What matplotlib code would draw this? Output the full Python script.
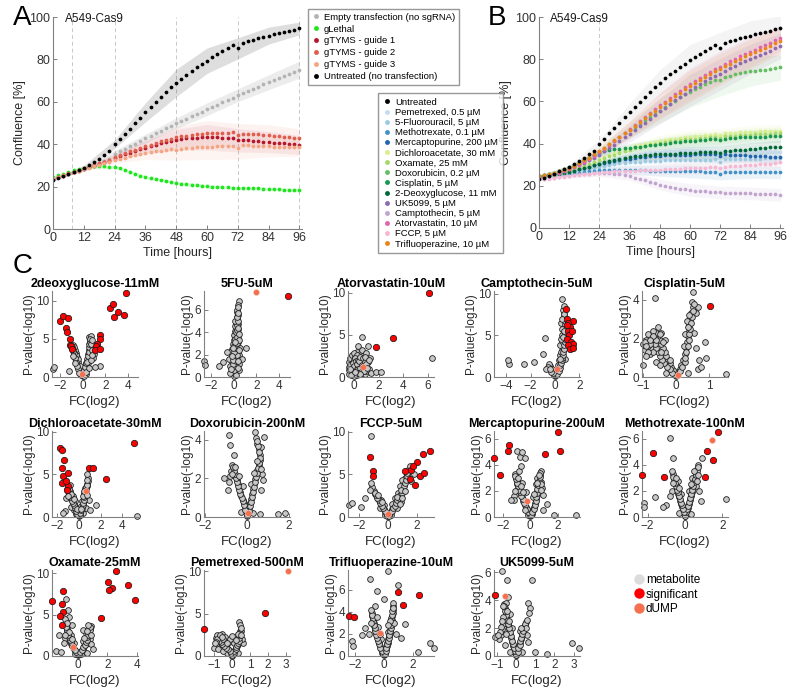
import matplotlib

matplotlib.use("Agg")
import matplotlib.pyplot as plt  # noqa: E402
from matplotlib.lines import Line2D  # noqa: E402
import numpy as np  # noqa: E402

plt.rcParams['font.family'] = ['Liberation Sans', 'DejaVu Sans']

W, H = 800, 696

# ---------------------------------------------------------------- time courses (every 2 h)
hours = list(range(0, 97, 2))
band_hours = [0, 12, 24, 36, 48, 60, 72, 84, 96]

a_untreated = [23.0, 23.9, 24.8, 25.8, 26.8, 27.9, 29.0, 30.3, 31.7, 33.2, 34.9, 36.7, 40.0,
               42.4, 44.8, 47.3, 49.9, 52.4, 55.0, 57.5, 59.9, 62.3, 64.6, 66.8, 68.9,
               70.9, 72.8, 74.6, 76.3, 77.9, 79.4, 81.0, 82.5, 84.0, 85.4, 86.8, 85.2,
               87.8, 88.6, 89.3, 90.0, 90.6, 91.2, 91.8, 92.4, 92.9, 93.5, 94.1, 94.6]
a_empty = [23.5, 24.3, 25.1, 25.9, 26.7, 27.5, 28.3, 29.1, 30.0, 31.0, 32.0, 33.2, 35.5,
           36.7, 37.9, 39.1, 40.3, 41.5, 42.7, 43.9, 45.1, 46.3, 47.5, 48.7, 49.9,
           51.0, 52.1, 53.2, 54.3, 55.4, 56.5, 57.6, 58.7, 59.8, 60.9, 62.0, 63.1,
           64.2, 65.2, 66.2, 67.2, 68.2, 69.2, 70.2, 71.2, 72.2, 73.2, 74.2, 75.2]
a_lethal = [24.5, 25.3, 26.1, 26.9, 27.6, 28.2, 28.8, 29.3, 29.6, 29.8, 29.7, 29.4, 29.3,
            28.8, 28.0, 27.0, 26.0, 25.2, 24.5, 23.9, 23.4, 23.0, 22.6, 22.2, 21.8,
            21.4, 21.1, 20.8, 20.6, 20.4, 20.2, 20.0, 19.8, 19.6, 19.6, 19.5, 19.3,
            19.5, 19.4, 19.3, 19.2, 19.0, 18.9, 18.8, 18.7, 18.6, 18.5, 18.4, 18.3]
a_guide1 = [23.5, 24.3, 25.1, 25.9, 26.7, 27.5, 28.3, 29.1, 29.9, 30.7, 31.5, 32.3, 33.5,
            34.3, 35.2, 36.0, 36.8, 37.6, 38.4, 39.1, 39.8, 40.4, 41.0, 41.6, 42.0,
            42.4, 42.7, 43.0, 43.1, 43.2, 43.3, 43.2, 43.2, 43.1, 43.0, 42.9, 41.8,
            42.2, 41.9, 41.7, 41.5, 41.2, 41.0, 40.8, 40.6, 40.4, 40.1, 39.9, 39.6]
a_guide2 = [23.8, 24.6, 25.4, 26.2, 27.0, 27.8, 28.6, 29.4, 30.2, 31.0, 31.8, 32.7, 34.0,
            34.8, 35.7, 36.6, 37.4, 38.2, 39.0, 39.8, 40.6, 41.3, 42.0, 42.6, 43.2,
            43.7, 44.1, 44.5, 44.8, 45.0, 45.2, 45.3, 45.4, 45.5, 45.5, 45.6, 44.2,
            45.0, 44.8, 44.7, 44.6, 44.4, 44.2, 44.0, 43.8, 43.5, 43.2, 43.0, 42.7]
a_guide3 = [24.0, 24.7, 25.4, 26.1, 26.8, 27.5, 28.2, 28.9, 29.6, 30.3, 31.0, 31.7, 32.5,
            33.1, 33.7, 34.3, 34.8, 35.3, 35.8, 36.2, 36.6, 37.0, 37.3, 37.6, 37.4,
            37.9, 38.1, 38.3, 38.5, 38.6, 38.8, 38.9, 39.0, 39.1, 39.2, 39.3, 38.4,
            39.6, 39.4, 39.3, 39.2, 39.1, 39.0, 38.9, 38.9, 38.8, 38.8, 38.7, 38.7]

# spread (sd) at 0, 12, ..., 96 h
a_sd_untreated = [0.5, 1.0, 2.0, 4.5, 6.5, 6.0, 5.0, 4.0, 3.0]
a_sd_empty = [0.5, 1.0, 1.5, 2.0, 2.5, 3.0, 3.0, 3.5, 4.0]
a_sd_lethal = [0.5, 0.5, 0.8, 0.8, 0.8, 0.8, 0.8, 0.8, 0.8]
a_sd_guide = [0.5, 1.0, 1.5, 3.0, 5.0, 6.0, 5.5, 5.0, 4.5]

b_untreated = a_untreated
b_pemetrexed = [24.0, 24.3, 24.6, 25.0, 25.4, 25.8, 26.3, 26.8, 27.4, 28.0, 28.7, 29.4, 30.2,
                31.0, 31.8, 32.5, 33.2, 33.8, 34.3, 34.8, 35.2, 35.5, 35.8, 36.0, 36.2,
                36.3, 36.4, 36.5, 36.5, 36.6, 36.6, 36.6, 36.7, 36.7, 36.7, 36.7, 36.0,
                36.7, 36.7, 36.6, 36.6, 36.6, 36.5, 36.5, 36.4, 36.4, 36.3, 36.3, 36.2]
b_5fu = [24.2, 24.4, 24.7, 25.0, 25.3, 25.7, 26.1, 26.5, 27.0, 27.5, 28.0, 28.5, 29.0,
         29.5, 29.9, 30.3, 30.6, 30.9, 31.1, 31.3, 31.5, 31.6, 31.7, 31.8, 31.9,
         32.0, 32.0, 32.1, 32.1, 32.2, 32.2, 32.3, 32.3, 32.4, 32.4, 32.5, 31.4,
         32.6, 32.6, 32.7, 32.7, 32.8, 32.8, 32.9, 32.9, 33.0, 33.0, 33.1, 33.1]
b_methotrexate = [24.0, 24.2, 24.5, 24.8, 25.1, 25.4, 25.7, 26.0, 26.3, 26.6, 26.9, 27.2, 27.5,
                  27.6, 27.7, 27.7, 27.7, 27.6, 27.6, 27.5, 27.4, 27.3, 27.2, 27.1, 27.0,
                  27.0, 26.9, 26.9, 26.9, 26.8, 26.8, 26.8, 26.8, 26.7, 26.7, 26.7, 25.8,
                  26.7, 26.6, 26.6, 26.6, 26.6, 26.5, 26.5, 26.5, 26.5, 26.4, 26.4, 26.4]
b_mercaptopurine = [24.6, 24.9, 25.2, 25.6, 26.0, 26.4, 26.9, 27.4, 27.9, 28.5, 29.1, 29.7, 30.3,
                    30.8, 31.3, 31.8, 32.2, 32.6, 32.9, 33.2, 33.5, 33.7, 33.9, 34.1, 34.3,
                    34.4, 34.5, 34.6, 34.7, 34.8, 34.8, 34.9, 34.9, 34.9, 35.0, 35.0, 34.0,
                    34.9, 34.8, 34.7, 34.6, 34.5, 34.3, 34.1, 34.0, 33.9, 33.8, 33.7, 33.6]
b_dca = [24.3, 24.6, 25.0, 25.5, 26.0, 26.6, 27.3, 28.0, 28.8, 29.6, 30.5, 31.4, 32.5,
         33.5, 34.5, 35.5, 36.4, 37.2, 38.0, 38.7, 39.3, 39.9, 40.4, 40.9, 41.3,
         41.7, 42.1, 42.4, 42.7, 43.0, 43.3, 43.5, 43.8, 44.0, 44.2, 44.4, 44.1,
         44.8, 45.0, 45.1, 45.3, 45.4, 45.6, 45.7, 45.8, 45.9, 46.0, 46.1, 46.2]
b_oxamate = [24.0, 24.3, 24.7, 25.2, 25.7, 26.3, 27.0, 27.7, 28.5, 29.3, 30.2, 31.1, 32.1,
             33.0, 33.9, 34.8, 35.6, 36.4, 37.1, 37.8, 38.4, 39.0, 39.5, 40.0, 40.4,
             40.8, 41.1, 41.4, 41.7, 42.0, 42.2, 42.4, 42.6, 42.8, 43.0, 43.2, 42.8,
             43.5, 43.7, 43.8, 44.0, 44.1, 44.3, 44.4, 44.5, 44.6, 44.7, 44.8, 44.9]
b_doxorubicin = [24.5, 24.9, 25.4, 26.0, 26.7, 27.5, 28.4, 29.4, 30.5, 31.7, 33.0, 34.5, 36.0,
                 37.8, 39.6, 41.4, 43.2, 44.9, 46.5, 48.0, 49.5, 51.0, 52.5, 54.0, 55.6,
                 57.2, 58.8, 60.4, 61.9, 63.3, 64.6, 65.8, 67.0, 68.1, 69.1, 70.1, 70.0,
                 71.5, 72.2, 72.8, 73.3, 73.8, 74.2, 74.5, 74.8, 75.1, 75.4, 75.7, 76.1]
b_cisplatin = [24.8, 25.2, 25.7, 26.3, 27.0, 27.8, 28.7, 29.7, 30.8, 32.0, 33.2, 34.4, 35.5,
               36.3, 36.9, 37.3, 37.6, 37.8, 38.0, 38.2, 38.5, 38.8, 39.1, 39.4, 39.7,
               40.0, 40.3, 40.6, 40.8, 41.0, 41.2, 41.4, 41.6, 41.8, 42.0, 42.1, 41.5,
               42.4, 42.6, 42.7, 42.9, 43.0, 43.1, 43.2, 43.3, 43.3, 43.4, 43.5, 43.6]
b_2dg = [24.5, 24.8, 25.1, 25.4, 25.8, 26.2, 26.7, 27.2, 27.8, 28.4, 29.0, 29.7, 30.4,
         31.1, 31.8, 32.4, 32.9, 33.3, 33.7, 34.0, 34.3, 34.5, 34.7, 34.9, 35.0,
         35.1, 35.2, 35.3, 35.4, 35.5, 35.6, 35.7, 35.8, 35.9, 36.0, 36.1, 35.6,
         36.4, 36.6, 36.8, 37.0, 37.2, 37.4, 37.6, 37.8, 38.0, 38.2, 38.4, 38.6]
b_uk5099 = [24.2, 24.6, 25.1, 25.7, 26.4, 27.1, 27.9, 28.8, 29.8, 30.9, 32.1, 33.4, 34.8,
            36.3, 37.9, 39.5, 41.2, 42.9, 44.6, 46.4, 48.2, 50.0, 51.8, 53.6, 55.4,
            57.1, 58.8, 60.5, 62.1, 63.7, 65.2, 66.7, 68.1, 69.5, 70.9, 72.2, 72.8,
            74.5, 75.7, 76.9, 78.0, 79.1, 80.1, 81.1, 82.1, 83.1, 84.1, 85.2, 86.3]
b_camptothecin = [23.2, 23.4, 23.6, 23.9, 24.2, 24.5, 24.8, 25.1, 25.4, 25.6, 25.8, 25.9, 26.0,
                  26.0, 25.9, 25.7, 25.4, 25.0, 24.5, 23.9, 23.3, 22.6, 21.9, 21.2, 20.6,
                  20.0, 19.5, 19.0, 18.6, 18.3, 18.0, 17.7, 17.5, 17.3, 17.1, 17.0, 16.9,
                  16.8, 16.7, 16.6, 16.6, 16.5, 16.4, 16.3, 16.2, 16.1, 16.0, 15.9, 15.7]
b_atorvastatin = [24.0, 24.4, 24.9, 25.5, 26.2, 27.0, 27.9, 28.9, 30.0, 31.3, 32.7, 34.2, 35.8,
                  37.5, 39.3, 41.1, 43.0, 44.9, 46.8, 48.7, 50.6, 52.5, 54.4, 56.3, 58.1,
                  59.9, 61.6, 63.3, 65.0, 66.6, 68.2, 69.7, 71.2, 72.6, 74.0, 75.3, 76.3,
                  77.8, 79.0, 80.2, 81.3, 82.4, 83.4, 84.5, 85.7, 86.8, 87.8, 88.9, 90.0]
b_fccp = [23.0, 23.2, 23.4, 23.7, 24.0, 24.3, 24.6, 24.9, 25.2, 25.5, 25.8, 26.0, 26.2,
          26.4, 26.6, 26.8, 26.9, 27.0, 27.1, 27.2, 27.3, 27.4, 27.5, 27.6, 27.7,
          27.8, 27.9, 28.0, 28.1, 28.2, 28.3, 28.4, 28.5, 28.6, 28.7, 28.8, 28.3,
          29.0, 29.2, 29.4, 29.6, 29.7, 29.9, 30.0, 30.2, 30.3, 30.5, 30.8, 31.1]
b_trifluoperazine = [24.8, 25.1, 25.6, 26.2, 26.9, 27.7, 28.6, 29.6, 30.7, 32.0, 33.4, 34.9, 36.5,
                     38.1, 39.8, 41.5, 43.2, 44.9, 46.6, 48.4, 50.2, 52.0, 53.8, 55.6, 57.4,
                     59.1, 60.8, 62.5, 64.1, 65.7, 67.2, 68.7, 70.1, 71.5, 72.9, 74.2, 75.2,
                     76.7, 77.9, 79.1, 80.2, 81.3, 82.4, 83.4, 84.4, 85.4, 86.4, 87.5, 88.6]
b_sd_high = [0.5, 1.0, 2.0, 4.0, 6.0, 7.5, 7.5, 7.0, 6.0]
b_sd_low = [0.5, 1.0, 1.5, 2.0, 2.5, 3.0, 3.0, 3.0, 3.0]

a_labels = ['Empty transfection (no sgRNA)', 'gLethal', 'gTYMS - guide 1',
            'gTYMS - guide 2', 'gTYMS - guide 3', 'Untreated (no transfection)']
b_labels = ['Untreated', 'Pemetrexed, 0.5 µM', '5-Fluorouracil, 5 µM', 'Methotrexate, 0.1 µM',
            'Mercaptopurine, 200 µM', 'Dichloroacetate, 30 mM', 'Oxamate, 25 mM',
            'Doxorubicin, 0.2 µM', 'Cisplatin, 5 µM', '2-Deoxyglucose, 11 mM', 'UK5099, 5 µM',
            'Camptothecin, 5 µM', 'Atorvastatin, 10 µM', 'FCCP, 5 µM', 'Trifluoperazine, 10 µM']

# ---------------------------------------------------------------- volcano data (FC log2, -log10 p)
dg_gray = [(0, 0.1), (0.05, 0.3), (-0.1, 0.4), (0.15, 0.5), (-0.2, 0.6), (0.2, 0.8), (-0.3, 0.9),
           (0.3, 1.0), (-0.35, 1.2), (0.35, 1.3), (-0.45, 1.5), (0.4, 1.6), (-0.5, 1.8), (0.45, 1.9),
           (-0.55, 2.1), (0.5, 2.2), (-0.6, 2.4), (0.55, 2.5), (-0.65, 2.7), (0.6, 2.8), (-0.7, 3.0),
           (0.6, 3.1), (-0.75, 3.3), (0.65, 3.4), (-0.8, 3.6), (0.7, 3.7), (-0.85, 3.9), (0.7, 4.0),
           (-0.9, 4.2), (0.65, 4.4), (0.6, 4.8), (0.55, 5.2), (0.7, 5.4), (-0.2, 1.0), (0.1, 1.2),
           (-0.4, 2.0), (0.25, 1.8), (-0.5, 2.6), (0.35, 2.4), (-0.6, 3.2), (0.45, 3.0), (0.5, 3.6),
           (-0.15, 0.3), (0.25, 0.4), (1.5, 1.4), (-2.7, 1.0), (-2.55, 1.3), (-1.2, 0.8), (1.0, 3.0),
           (0.9, 2.5), (1.1, 1.3),
           (-0.05, 0.2), (0.08, 0.15), (-0.25, 0.5), (0.12, 0.9), (-0.3, 1.4), (0.22, 1.3), (-0.42, 1.1),
           (0.3, 1.9), (-0.48, 2.3), (0.38, 2.0), (-0.58, 2.0), (0.42, 2.7), (-0.62, 2.9), (0.5, 3.3),
           (-0.68, 3.5), (0.55, 3.9), (-0.72, 2.5), (0.58, 4.3), (-0.78, 3.1), (0.62, 4.6), (-0.82, 4.0),
           (0.66, 5.0), (-0.88, 3.4), (0.75, 4.3), (-0.95, 3.7), (0.8, 3.5), (-0.35, 0.5), (0.3, 0.6),
           (-0.55, 1.4), (0.5, 1.2), (-0.7, 1.9), (0.68, 2.2), (0.8, 2.9), (-0.9, 2.8), (0.85, 4.8)]
dg_red = [(-2.02, 7.4), (-1.73, 8.0), (-1.31, 7.8), (-1.49, 6.4), (-1.43, 5.85), (-1.19, 5.0),
          (-1.13, 4.27), (-0.98, 3.85), (-1.07, 4.1), (-0.95, 3.7), (1.49, 5.55), (1.55, 5.0),
          (1.25, 4.3), (1.19, 4.1), (1.04, 3.55), (1.49, 3.7), (2.44, 9.05), (2.65, 9.56),
          (3.1, 8.6), (2.74, 7.9), (3.69, 8.1), (3.84, 11.06)]
dg_dump = (-0.1, 0.45)

fu_gray = [(0, 0.1), (0.1, 0.3), (-0.1, 0.5), (0.2, 0.7), (-0.15, 0.9), (0.25, 1.1), (-0.2, 1.3),
           (0.3, 1.5), (-0.25, 1.7), (0.3, 1.9), (-0.2, 2.1), (0.35, 2.3), (-0.15, 2.5), (0.35, 2.7),
           (-0.1, 2.9), (0.4, 3.1), (0.0, 3.3), (0.4, 3.5), (0.05, 3.7), (0.4, 3.9), (0.1, 4.1),
           (0.35, 4.3), (0.15, 4.5), (0.35, 4.7), (0.2, 4.9), (0.3, 5.1), (0.25, 5.3), (0.35, 5.5),
           (0.3, 5.8), (0.45, 6.8), (0.4, 6.4), (-0.35, 1.0), (-0.4, 1.6), (0.45, 1.2), (0.5, 2.0),
           (-0.3, 2.2), (0.55, 2.6), (0.5, 0.6), (-0.3, 0.4), (-0.6, 2.2), (-0.96, 1.3), (-1.34, 0.96),
           (-2.63, 1.44), (-2.54, 1.06), (1.13, 2.6), (0.7, 1.6), (0.2, 0.2),
           (0.05, 0.6), (0.15, 1.0), (-0.05, 1.2), (0.2, 1.4), (0.1, 1.8), (0.25, 2.0), (0.0, 2.2),
           (0.2, 2.6), (0.05, 2.8), (0.3, 3.0), (0.1, 3.4), (0.25, 3.6), (0.2, 4.0), (0.3, 4.2),
           (0.25, 4.6), (0.15, 5.0), (0.35, 5.0), (0.3, 5.3), (0.25, 6.0), (0.35, 6.2), (0.4, 5.7),
           (-0.25, 0.7), (0.35, 0.8), (-0.1, 1.5), (0.4, 1.4), (0.45, 2.4), (-0.2, 1.9), (0.45, 3.3),
           (-0.05, 2.6), (0.4, 4.4), (0.15, 3.1), (0.5, 3.8)]
fu_red = [(4.78, 7.2)]
fu_dump = (1.94, 7.6)

at_gray = [(-0.45, 1.8), (-0.4, 1.2), (-0.35, 2.2), (-0.3, 0.6), (-0.25, 1.6), (-0.2, 2.6), (-0.15, 0.3),
           (-0.1, 1.0), (-0.05, 2.0), (0.0, 0.1), (0.05, 0.5), (0.1, 1.4), (0.1, 2.4), (0.15, 0.8),
           (0.2, 0.2), (0.2, 1.8), (0.25, 3.0), (0.3, 1.1), (0.3, 0.4), (0.35, 2.2), (0.35, 3.65),
           (0.4, 0.7), (0.4, 1.5), (0.45, 2.7), (0.5, 0.3), (0.5, 1.9), (0.55, 1.2), (0.6, 2.5),
           (0.6, 0.6), (0.65, 3.2), (0.68, 4.7), (0.7, 1.6), (0.75, 0.9), (0.8, 2.1), (0.85, 0.4),
           (0.9, 1.3), (0.95, 2.8), (1.0, 0.7), (1.1, 1.8), (1.1, 3.65), (1.2, 1.0), (1.3, 2.3),
           (1.4, 0.5), (1.77, 0.6), (2.16, 0.6), (6.3, 2.3), (-0.45, 0.3), (0.0, 2.9), (0.25, 2.6),
           (0.15, 1.2),
           (-0.4, 0.8), (-0.3, 1.4), (-0.2, 0.9), (-0.1, 1.7), (0.0, 0.6), (0.0, 1.3), (0.05, 2.3),
           (0.1, 0.3), (0.15, 1.9), (0.2, 0.9), (0.25, 1.5), (0.3, 2.0), (0.35, 0.9), (0.4, 1.9),
           (0.45, 1.1), (0.5, 2.4), (0.55, 0.6), (0.6, 1.4), (0.7, 2.3), (0.75, 1.3), (0.8, 0.7),
           (0.85, 1.8), (0.9, 2.4), (1.0, 1.5), (1.05, 1.1), (0.45, 0.4), (-0.25, 0.2), (0.1, 0.6),
           (-0.35, 1.0), (1.2, 2.0)]
at_red = [(1.8, 3.5), (3.2, 4.6), (6.1, 10.0)]
at_dump = (0.73, 1.17)

ca_gray = [(0, 0.1), (0.1, 0.3), (-0.1, 0.4), (0.2, 0.6), (-0.2, 0.7), (0.3, 0.9), (-0.3, 1.0),
           (0.35, 1.3), (-0.4, 1.3), (0.45, 1.6), (-0.5, 1.6), (0.5, 2.0), (0.55, 2.4), (0.6, 2.8),
           (0.6, 3.2), (0.65, 3.6), (0.7, 4.0), (0.7, 4.4), (0.75, 4.8), (0.75, 5.2), (0.8, 5.6),
           (0.75, 6.0), (0.8, 6.4), (0.7, 6.8), (0.75, 7.2), (0.7, 7.6), (0.65, 8.0), (0.7, 8.5),
           (0.6, 9.3), (0.5, 6.5), (0.55, 5.0), (0.45, 3.8), (0.4, 2.6), (0.35, 2.0), (0.25, 1.4),
           (0.15, 0.9), (0.5, 3.0), (0.6, 4.3), (-0.6, 1.2), (-0.7, 1.0), (-0.96, 2.8), (-0.86, 4.7),
           (-1.7, 1.8), (-2.54, 1.5), (-3.8, 1.5), (-3.88, 2.0), (0.9, 3.6), (0.85, 2.2),
           (0.05, 0.2), (-0.05, 0.2), (0.2, 0.4), (-0.15, 0.5), (0.3, 0.7), (0.4, 1.1), (0.45, 1.4),
           (0.5, 1.7), (0.55, 2.0), (0.6, 2.3), (0.65, 2.6), (0.65, 3.0), (0.7, 3.4), (0.75, 3.8),
           (0.8, 4.2), (0.8, 4.6), (0.85, 5.0), (0.85, 5.4), (0.9, 5.9), (0.85, 6.3), (0.8, 6.7),
           (0.8, 7.1), (0.75, 7.5), (0.6, 7.0), (0.55, 5.8), (0.5, 4.5), (0.45, 2.2), (-0.25, 0.9),
           (-0.35, 0.6), (-0.45, 1.0), (0.7, 5.5), (0.65, 4.8)]
ca_red = [(0.9, 8.2), (0.95, 7.0), (1.5, 6.7), (1.1, 6.5), (1.2, 6.0), (1.05, 5.5), (1.15, 5.0),
          (1.4, 5.5), (1.0, 4.5), (1.3, 4.2), (1.5, 4.0), (1.1, 3.8), (1.2, 3.3), (1.45, 3.5),
          (0.95, 6.2)]
ca_dump = (0.14, 0.9)

ci_gray = [(0, 0.05), (0.05, 0.2), (-0.05, 0.25), (0.1, 0.4), (-0.1, 0.35), (0.15, 0.6), (-0.15, 0.5),
           (0.2, 0.9), (-0.2, 0.7), (0.25, 1.2), (-0.25, 0.9), (0.3, 1.5), (-0.3, 1.1), (0.32, 1.8),
           (-0.35, 1.3), (0.35, 2.1), (-0.4, 1.5), (0.38, 2.4), (-0.45, 1.7), (0.4, 2.7), (-0.5, 1.9),
           (0.42, 3.0), (-0.55, 2.1), (0.45, 3.3), (-0.6, 2.3), (0.5, 3.6), (-0.65, 2.0), (0.48, 3.9),
           (-0.7, 1.8), (0.5, 4.4), (-0.75, 1.5), (-0.8, 1.2), (-0.85, 1.6), (-0.9, 1.9), (-0.95, 1.4),
           (-1.0, 1.7), (-0.64, 4.1), (-0.55, 2.6), (-0.45, 2.3), (-0.35, 1.9), (0.28, 2.2), (0.22, 1.6),
           (0.33, 2.9), (0.55, 2.3), (0.6, 1.5), (0.7, 0.9), (0.65, 0.4), (0.75, 0.5), (1.5, 0.15),
           (0.35, 0.2), (-0.3, 0.2), (-0.6, 0.8), (-0.7, 2.4), (-0.85, 2.2), (-1.0, 0.6), (0.6, 3.3),
           (0.65, 3.6), (0.87, 1.8), (0.9, 1.0),
           (-0.05, 0.1), (-0.12, 0.2), (-0.2, 0.4), (-0.28, 0.5), (-0.38, 0.7), (-0.42, 0.9), (-0.5, 1.1),
           (-0.55, 1.3), (-0.6, 1.5), (-0.65, 1.7), (-0.7, 1.3), (-0.75, 1.9), (-0.8, 1.7), (-0.85, 1.3),
           (-0.9, 1.1), (-0.95, 1.8), (-0.5, 0.6), (-0.4, 1.8), (-0.5, 2.2), (-0.6, 1.9), (-0.7, 2.1),
           (-0.8, 1.9), (-0.9, 1.6), (0.12, 0.3), (0.18, 0.5), (0.25, 0.8), (0.28, 1.0), (0.3, 1.3),
           (0.35, 1.6), (0.38, 1.9), (0.4, 2.2), (0.42, 2.5), (0.45, 2.8), (0.48, 3.1), (0.52, 3.4),
           (0.55, 3.8), (0.4, 3.2), (0.35, 2.6), (-0.45, 1.3), (-0.2, 0.9)]
ci_red = [(1.02, 3.65)]
ci_dump = (0.05, 0.1)

dc_gray = [(0, 0.1), (0.1, 0.3), (-0.1, 0.3), (0.15, 0.6), (-0.2, 0.6), (0.25, 0.9), (-0.3, 0.9),
           (0.3, 1.2), (-0.4, 1.2), (0.35, 1.5), (-0.5, 1.5), (0.4, 1.8), (-0.6, 1.8), (0.45, 2.1),
           (-0.7, 2.1), (0.5, 2.4), (-0.8, 2.4), (0.55, 2.7), (-0.9, 2.7), (0.6, 3.0), (-1.0, 3.0),
           (0.65, 3.3), (-1.1, 3.3), (0.7, 3.6), (0.75, 3.9), (0.8, 4.2), (0.8, 4.6), (0.75, 5.0),
           (-0.2, 1.1), (0.2, 1.3), (-0.4, 1.9), (0.3, 1.9), (-0.6, 2.5), (0.45, 2.8), (-0.8, 3.0),
           (0.55, 3.4), (-0.3, 0.4), (0.35, 0.5), (-0.5, 0.8), (0.6, 1.0), (-0.7, 1.2), (-1.2, 2.2),
           (1.6, 1.4), (5.4, 0.1), (-0.85, 3.8), (-1.3, 0.7), (-1.5, 0.5), (0.9, 2.0), (1.0, 0.8),
           (-0.05, 0.2), (0.05, 0.2), (-0.15, 0.4), (0.1, 0.5), (-0.25, 0.7), (0.2, 0.8), (-0.35, 1.1),
           (0.28, 1.1), (-0.45, 1.4), (0.32, 1.4), (-0.55, 1.6), (0.38, 1.7), (-0.65, 1.9), (0.42, 2.0),
           (-0.75, 2.3), (0.48, 2.3), (-0.85, 2.6), (0.52, 2.6), (-0.95, 2.9), (0.58, 2.9), (-1.05, 3.1),
           (0.62, 3.2), (0.68, 3.5), (0.72, 3.8), (0.78, 4.4), (-0.5, 2.1), (0.4, 2.5), (-0.7, 2.7),
           (0.5, 3.1), (-0.9, 3.3), (-1.0, 2.5), (0.7, 2.6), (-0.15, 0.9), (0.15, 0.9)]
dc_red = [(-1.8, 8.1), (-1.54, 7.9), (-1.41, 6.7), (-1.47, 4.8), (-1.0, 5.2), (-1.54, 3.95),
          (-1.0, 3.6), (-1.1, 3.2), (2.46, 4.5), (5.05, 8.65), (-1.6, 5.8), (0.9, 5.7), (1.3, 5.8),
          (-1.2, 4.2)]
dc_dump = (0.62, 3.1)

dx_gray = [(0, 0.05), (0.05, 0.2), (-0.05, 0.3), (0.1, 0.45), (-0.1, 0.5), (0.15, 0.7), (-0.15, 0.7),
           (0.2, 0.95), (-0.2, 0.9), (0.25, 1.2), (-0.3, 1.1), (0.3, 1.45), (-0.35, 1.3), (0.35, 1.7),
           (-0.4, 1.5), (0.4, 1.95), (-0.45, 1.7), (0.45, 2.2), (-0.5, 1.9), (0.5, 2.45), (-0.55, 2.1),
           (0.55, 2.7), (-0.6, 2.3), (0.6, 2.95), (-0.65, 2.5), (0.6, 3.2), (-0.7, 2.7), (0.55, 3.5),
           (0.5, 3.8), (0.45, 4.1), (-0.75, 2.4), (-0.8, 2.1), (-0.85, 1.8), (0.7, 2.2), (0.75, 1.9),
           (0.65, 1.4), (-0.6, 3.2), (-0.86, 4.23), (-0.82, 3.73), (0.39, 4.4), (0.83, 4.15),
           (0.67, 3.64), (-0.2, 1.6), (0.2, 1.7), (1.48, 0.17), (1.8, 0.2), (0.62, 0.17), (-1.1, 2.0),
           (-0.9, 1.4), (0.3, 0.2), (-0.3, 0.25),
           (-0.02, 0.1), (0.08, 0.3), (-0.08, 0.35), (0.12, 0.55), (-0.12, 0.6), (0.18, 0.8),
           (-0.18, 0.85), (0.22, 1.05), (-0.25, 1.0), (0.28, 1.3), (-0.32, 1.2), (0.32, 1.55),
           (-0.38, 1.4), (0.38, 1.8), (-0.42, 1.6), (0.42, 2.05), (-0.48, 1.8), (0.48, 2.3),
           (-0.52, 2.0), (0.52, 2.55), (-0.58, 2.2), (0.58, 2.8), (-0.62, 2.4), (0.62, 3.05),
           (-0.68, 2.6), (0.58, 3.35), (0.52, 3.65), (0.48, 3.95), (-0.72, 2.2), (0.68, 2.5),
           (-0.4, 2.1), (0.35, 2.3), (-0.55, 2.6), (0.5, 2.9)]
dx_red = []
dx_dump = (0.05, 0.2)

fc_gray = [(0, 0.1), (0.1, 0.3), (-0.1, 0.3), (0.2, 0.6), (-0.2, 0.6), (0.3, 0.9), (-0.3, 0.9),
           (0.4, 1.2), (-0.4, 1.2), (0.5, 1.5), (-0.5, 1.5), (0.6, 1.8), (-0.6, 1.8), (0.7, 2.1),
           (-0.7, 2.1), (0.8, 2.4), (-0.8, 2.4), (0.9, 2.7), (-0.9, 2.7), (1.0, 3.0), (-1.0, 3.0),
           (1.0, 3.4), (1.1, 3.8), (1.2, 4.2), (1.2, 4.6), (1.3, 5.0), (1.4, 5.5), (1.5, 6.0),
           (0.5, 2.2), (-0.5, 2.0), (0.7, 2.8), (0.3, 1.5), (-0.3, 1.4), (0.6, 1.0), (-0.6, 1.0),
           (0.9, 1.8), (-1.1, 3.5), (-1.2, 4.0), (1.6, 4.2), (1.8, 5.0), (-2.7, 1.4), (-2.5, 1.6),
           (-1.87, 1.2), (-1.64, 2.2), (-1.2, 9.5), (-1.3, 3.2), (0.8, 3.6), (1.0, 4.4), (0.2, 0.2),
           (-0.2, 0.2),
           (-0.05, 0.15), (0.05, 0.15), (-0.15, 0.45), (0.15, 0.45), (-0.25, 0.75), (0.25, 0.75),
           (-0.35, 1.05), (0.35, 1.05), (-0.45, 1.35), (0.45, 1.35), (-0.55, 1.65), (0.55, 1.65),
           (-0.65, 1.95), (0.65, 1.95), (-0.75, 2.25), (0.75, 2.25), (-0.85, 2.55), (0.85, 2.55),
           (-0.95, 2.85), (0.95, 2.85), (1.05, 3.2), (1.1, 3.6), (1.15, 4.0), (1.25, 4.4), (1.3, 4.8),
           (1.35, 5.2), (0.9, 3.2), (-0.7, 2.6), (0.6, 2.4), (-0.4, 1.8), (1.0, 2.2), (0.8, 1.5),
           (1.2, 3.0)]
fc_red = [(-1.3, 7.0), (-1.06, 5.4), (-1.06, 4.8), (1.18, 5.4), (1.88, 3.8), (2.23, 4.8), (1.6, 5.5),
          (2.0, 6.5), (2.4, 7.4), (2.9, 7.8), (1.5, 4.5), (2.5, 5.2), (1.7, 6.0)]
fc_dump = (0.0, 0.3)

mp_gray = [(0, 0.05), (0.1, 0.25), (-0.1, 0.3), (0.2, 0.5), (-0.2, 0.5), (0.3, 0.8), (-0.3, 0.75),
           (0.35, 1.1), (-0.4, 1.0), (0.4, 1.4), (-0.5, 1.25), (0.45, 1.7), (-0.6, 1.5), (0.5, 2.0),
           (-0.7, 1.75), (0.55, 2.3), (-0.8, 2.0), (0.6, 2.6), (-0.9, 2.25), (0.65, 2.9), (-0.95, 2.5),
           (0.7, 3.2), (-1.0, 2.75), (0.75, 3.5), (-1.05, 3.0), (0.8, 2.7), (-1.1, 3.3), (0.85, 2.2),
           (-1.15, 1.6), (0.9, 1.7), (-1.2, 1.3), (-0.3, 1.9), (0.2, 1.5), (-0.6, 2.6), (0.4, 2.5),
           (-0.8, 3.5), (0.5, 3.0), (-1.0, 5.05), (-0.75, 4.6), (-0.6, 5.0), (-0.4, 4.5), (-0.7, 3.9),
           (1.7, 0.15), (3.3, 0.15), (1.2, 1.0), (-1.4, 1.3), (0.9, 0.5), (-0.2, 0.15),
           (-0.05, 0.15), (0.05, 0.15), (-0.15, 0.4), (0.15, 0.4), (-0.25, 0.6), (0.25, 0.65),
           (-0.35, 0.9), (0.32, 0.95), (-0.45, 1.1), (0.38, 1.25), (-0.55, 1.35), (0.42, 1.55),
           (-0.65, 1.6), (0.48, 1.85), (-0.75, 1.9), (0.52, 2.15), (-0.85, 2.1), (0.58, 2.45),
           (-0.92, 2.4), (0.62, 2.75), (-0.98, 2.6), (0.68, 3.05), (-1.02, 2.9), (0.72, 3.35),
           (-1.08, 3.15), (0.75, 2.5), (-1.12, 2.0), (0.8, 2.1), (-0.5, 1.9), (0.3, 1.8), (-0.7, 2.4),
           (0.5, 2.6), (-0.9, 3.0), (0.6, 3.2), (-0.4, 0.5)]
mp_red = [(-2.2, 3.2), (-2.6, 4.55), (-1.52, 5.5), (-1.64, 5.05), (1.06, 4.87), (2.16, 5.1),
          (2.04, 6.5)]
mp_dump = (-0.24, 1.2)

mt_gray = [(0, 0.05), (0.05, 0.2), (-0.05, 0.25), (0.1, 0.45), (-0.1, 0.5), (0.15, 0.7), (-0.15, 0.75),
           (0.2, 1.0), (-0.2, 1.0), (0.25, 1.3), (-0.25, 1.25), (0.3, 1.6), (-0.3, 1.5), (0.35, 1.9),
           (-0.35, 1.75), (0.4, 2.2), (-0.4, 2.0), (0.45, 2.5), (-0.45, 2.25), (0.5, 2.8), (-0.5, 2.5),
           (0.55, 3.1), (-0.55, 2.75), (0.6, 3.4), (-0.6, 3.0), (0.65, 3.7), (-0.65, 3.3), (0.7, 4.0),
           (0.6, 2.4), (-0.7, 2.0), (0.75, 2.0), (-0.8, 1.6), (0.9, 4.5), (-0.66, 4.5), (-0.8, 6.1),
           (0.85, 1.2), (-1.0, 0.9), (-2.2, 1.1), (-2.2, 0.8), (-1.6, 1.5), (-1.18, 0.8), (2.2, 1.4),
           (0.3, 0.2), (-0.3, 0.3), (0.2, 2.0), (-0.2, 1.8), (0.4, 3.0), (-0.4, 2.8),
           (-0.02, 0.1), (0.08, 0.35), (-0.08, 0.35), (0.12, 0.6), (-0.12, 0.6), (0.18, 0.85),
           (-0.18, 0.9), (0.22, 1.15), (-0.22, 1.1), (0.28, 1.45), (-0.28, 1.4), (0.32, 1.75),
           (-0.32, 1.6), (0.38, 2.05), (-0.38, 1.9), (0.42, 2.35), (-0.42, 2.1), (0.48, 2.65),
           (-0.48, 2.4), (0.52, 2.95), (-0.52, 2.6), (0.58, 3.25), (-0.58, 2.9), (0.62, 3.55),
           (-0.62, 3.1), (0.68, 3.85), (-0.7, 3.5), (0.3, 2.5), (-0.3, 2.2), (0.5, 3.5), (-0.5, 3.0),
           (0.65, 2.8), (-0.65, 2.6), (0.7, 3.2)]
mt_red = [(-1.7, 4.95), (1.77, 6.5), (1.16, 5.1), (1.5, 4.4), (-2.3, 3.2), (-1.1, 3.1), (1.08, 3.1)]
mt_dump = (1.42, 5.9)

ox_gray = [(0, 0.1), (0.1, 0.3), (-0.1, 0.3), (0.2, 0.6), (-0.2, 0.6), (0.3, 0.9), (-0.3, 0.9),
           (0.4, 1.2), (-0.4, 1.2), (0.5, 1.5), (-0.5, 1.5), (0.55, 1.8), (-0.55, 1.8), (0.6, 2.1),
           (-0.6, 2.1), (0.65, 2.4), (-0.65, 2.4), (0.7, 2.7), (-0.7, 2.7), (0.75, 3.0), (-0.75, 3.0),
           (0.8, 3.3), (-0.8, 3.3), (0.85, 3.6), (-0.85, 3.6), (0.8, 2.0), (-0.9, 2.2), (0.9, 1.5),
           (-1.0, 1.6), (-0.3, 1.6), (0.3, 1.8), (-0.5, 2.6), (0.5, 2.8), (-1.5, 0.6), (-1.3, 2.5),
           (-1.2, 0.5), (-0.85, 6.9), (-0.7, 5.6), (-0.6, 4.7), (-0.9, 4.5), (0.2, 0.2), (-0.2, 0.2),
           (1.0, 0.8), (0.6, 0.4), (-0.45, 3.8), (0.35, 3.2),
           (-0.05, 0.2), (0.05, 0.2), (-0.15, 0.45), (0.15, 0.45), (-0.25, 0.75), (0.25, 0.75),
           (-0.35, 1.05), (0.35, 1.05), (-0.45, 1.35), (0.45, 1.35), (-0.5, 1.65), (0.5, 1.65),
           (-0.58, 1.95), (0.58, 1.95), (-0.62, 2.25), (0.62, 2.25), (-0.68, 2.55), (0.68, 2.55),
           (-0.72, 2.85), (0.72, 2.85), (-0.78, 3.15), (0.78, 3.15), (-0.82, 3.45), (0.82, 3.45),
           (-0.4, 2.0), (0.4, 2.2), (-0.6, 2.9), (0.6, 3.0), (-0.9, 2.6), (0.9, 2.5), (-0.8, 4.0),
           (0.7, 3.7)]
ox_red = [(-1.8, 6.67), (-1.14, 6.27), (-1.07, 5.36), (-1.25, 4.8), (-1.1, 3.8), (1.55, 4.56),
          (3.9, 6.8), (2.58, 10.3), (2.05, 9.0), (2.29, 8.2), (2.1, 8.0), (3.38, 8.6), (-1.07, 7.9)]
ox_dump = (-0.35, 1.1)

pm_gray = [(0, 0.05), (0.05, 0.2), (-0.05, 0.25), (0.1, 0.45), (-0.1, 0.45), (0.15, 0.7), (-0.2, 0.7),
           (0.2, 0.95), (-0.3, 0.9), (0.25, 1.2), (-0.4, 1.1), (0.3, 1.45), (-0.5, 1.3), (0.35, 1.7),
           (-0.6, 1.5), (0.35, 2.0), (-0.7, 1.7), (0.4, 2.3), (-0.8, 1.9), (0.4, 2.6), (-0.9, 2.1),
           (0.45, 2.9), (-0.85, 2.5), (0.35, 4.0), (0.45, 3.6), (0.5, 3.0), (-0.6, 2.6), (-0.4, 2.3),
           (-0.2, 1.6), (0.1, 1.5), (-0.9, 1.3), (-1.0, 1.0), (-0.8, 0.8), (0.6, 1.5), (0.55, 2.0),
           (-0.3, 0.3), (0.3, 0.3), (-0.5, 0.6), (0.2, 2.3), (-0.7, 2.2), (-0.15, 2.0), (0.0, 2.4),
           (-0.02, 0.1), (0.08, 0.3), (-0.08, 0.35), (0.12, 0.55), (-0.15, 0.55), (0.18, 0.8),
           (-0.25, 0.8), (0.22, 1.1), (-0.35, 1.0), (0.28, 1.3), (-0.45, 1.2), (0.32, 1.55),
           (-0.55, 1.4), (0.38, 1.8), (-0.65, 1.6), (0.38, 2.15), (-0.75, 1.8), (0.42, 2.45),
           (-0.85, 2.0), (0.42, 2.75), (-0.9, 1.7), (0.48, 3.3), (-0.7, 2.5), (-0.5, 2.0), (-0.3, 1.5),
           (0.2, 1.9), (0.3, 2.6), (-0.95, 1.5), (-0.6, 2.3), (0.5, 2.5)]
pm_red = [(-1.58, 3.2), (1.83, 5.1)]
pm_dump = (3.1, 10.0)

tf_gray = [(0, 0.05), (0.1, 0.3), (-0.1, 0.3), (0.15, 0.6), (-0.2, 0.6), (0.2, 0.9), (-0.3, 0.9),
           (0.25, 1.2), (-0.35, 1.2), (0.3, 1.5), (-0.4, 1.5), (0.35, 1.8), (-0.5, 1.8), (0.4, 2.1),
           (-0.55, 2.1), (0.45, 2.4), (-0.6, 2.4), (0.5, 2.7), (-0.65, 2.7), (0.5, 3.0), (-0.7, 3.0),
           (0.55, 3.3), (-0.75, 3.3), (0.55, 3.6), (-0.8, 3.6), (0.6, 3.9), (-0.85, 3.9), (0.6, 4.2),
           (0.65, 4.5), (0.6, 4.8), (-0.5, 5.9), (-0.95, 7.0), (0.3, 7.7), (0.96, 6.4), (-0.6, 4.5),
           (0.0, 5.2), (-1.3, 2.5), (-1.53, 1.9), (-1.0, 2.0), (1.44, 2.9), (1.2, 1.65), (2.34, 0.4),
           (3.2, 1.15), (3.45, 0.75), (0.8, 2.0), (-0.4, 2.6), (0.3, 2.2), (-0.2, 1.5), (0.2, 1.2),
           (-2.2, 1.4), (-2.1, 0.9),
           (-0.05, 0.15), (0.05, 0.15), (-0.15, 0.45), (0.12, 0.45), (-0.25, 0.75), (0.18, 0.75),
           (-0.32, 1.05), (0.22, 1.05), (-0.38, 1.35), (0.28, 1.35), (-0.45, 1.65), (0.32, 1.65),
           (-0.52, 1.95), (0.38, 1.95), (-0.58, 2.25), (0.42, 2.25), (-0.62, 2.55), (0.48, 2.55),
           (-0.68, 2.85), (0.48, 2.85), (-0.72, 3.15), (0.52, 3.15), (-0.78, 3.45), (0.52, 3.45),
           (-0.82, 3.75), (0.58, 3.75), (0.58, 4.05), (0.62, 4.35), (-0.88, 3.0), (0.7, 3.0),
           (-0.5, 3.5), (0.4, 3.2), (-0.3, 2.0), (0.3, 2.8), (-0.9, 4.2)]
tf_red = [(-2.4, 3.63), (-2.05, 3.5), (0.98, 5.8), (1.32, 4.6), (2.45, 5.5)]
tf_dump = (-0.27, 2.1)

uk_gray = [(0, 0.05), (0.05, 0.2), (-0.05, 0.25), (0.1, 0.45), (-0.1, 0.5), (0.15, 0.7), (-0.15, 0.75),
           (0.2, 0.95), (-0.2, 1.0), (0.25, 1.2), (-0.25, 1.3), (0.3, 1.45), (-0.3, 1.6), (0.35, 1.7),
           (-0.35, 1.9), (0.4, 1.95), (-0.4, 2.2), (0.45, 2.2), (-0.45, 2.5), (0.5, 2.45), (-0.5, 2.8),
           (-0.55, 3.1), (-0.6, 3.4), (-0.65, 3.7), (-0.7, 2.3), (-0.75, 1.9), (-0.8, 1.5), (-0.9, 1.2),
           (-1.05, 1.4), (-1.12, 1.36), (0.55, 1.5), (0.6, 1.0), (0.64, 3.8), (0.7, 3.4), (0.65, 3.1),
           (-0.4, 4.2), (-0.75, 6.05), (-0.48, 5.47), (0.82, 5.4), (1.0, 0.3), (1.6, 0.12), (2.9, 0.94),
           (3.3, 0.54), (-0.3, 0.3), (0.3, 0.3), (-0.6, 0.8), (-0.2, 2.0), (0.2, 1.8), (-0.5, 3.8),
           (-0.3, 3.0),
           (-0.02, 0.1), (0.02, 0.1), (-0.08, 0.35), (0.08, 0.3), (-0.12, 0.6), (0.12, 0.55),
           (-0.18, 0.85), (0.18, 0.8), (-0.22, 1.1), (0.22, 1.05), (-0.28, 1.4), (0.28, 1.3),
           (-0.32, 1.7), (0.32, 1.55), (-0.38, 2.0), (0.38, 1.8), (-0.42, 2.3), (0.42, 2.05),
           (-0.48, 2.6), (0.48, 2.3), (-0.52, 2.9), (-0.58, 3.2), (-0.62, 3.55), (-0.68, 2.8),
           (-0.72, 2.5), (-0.78, 2.1), (-0.85, 1.7), (-0.95, 1.5), (0.52, 2.0), (0.55, 2.6),
           (-0.45, 3.2), (-0.35, 2.5), (0.25, 2.0), (-0.55, 1.6), (-0.7, 3.6)]
uk_red = [(-1.09, 4.37)]
uk_dump = (-0.6, 4.3)

volcano_titles = ['2deoxyglucose-11mM', '5FU-5uM', 'Atorvastatin-10uM', 'Camptothecin-5uM',
                  'Cisplatin-5uM', 'Dichloroacetate-30mM', 'Doxorubicin-200nM', 'FCCP-5uM',
                  'Mercaptopurine-200uM', 'Methotrexate-100nM', 'Oxamate-25mM', 'Pemetrexed-500nM',
                  'Trifluoperazine-10uM', 'UK5099-5uM']

# ---------------------------------------------------------------- helpers
GRID_GRAY = '#808080'
TEXT = '#262626'


def px_axes(fig, left, top, right, bottom):
    return fig.add_axes([left / W, 1 - bottom / H, (right - left) / W, (bottom - top) / H])


def style_axes(ax, fs):
    for side in ('top', 'right'):
        ax.spines[side].set_visible(False)
    for side in ('left', 'bottom'):
        ax.spines[side].set_color(GRID_GRAY)
        ax.spines[side].set_linewidth(0.8)
    ax.tick_params(direction='in', length=3, width=0.7, color=GRID_GRAY,
                   labelcolor='#333333', labelsize=fs, pad=2)


def draw_band(ax, vals, sd, color, alpha):
    coarse = np.asarray(vals)[::6]
    sd = np.asarray(sd)
    ax.fill_between(band_hours, coarse - sd, coarse + sd, color=color, alpha=alpha, lw=0)


def draw_dots(ax, vals, color, label):
    return ax.plot(hours, vals, 'o', ms=2.7, color=color, mec='none', label=label)[0]


def growth_axes(ax, vlines):
    for v in vlines:
        ax.axvline(v, color='#c8c8c8', lw=0.7, ls=(0, (4, 3)), zorder=0)
    ax.set_xlim(0, 97)
    ax.set_ylim(0, 100)
    ax.set_xticks(range(0, 97, 12))
    ax.set_yticks(range(0, 101, 20))
    style_axes(ax, 9)
    ax.set_xlabel('Time [hours]', fontsize=9, color=TEXT, labelpad=2)
    ax.set_ylabel('Confluence [%]', fontsize=9, color=TEXT, labelpad=2)
    ax.text(4.5, 99, 'A549-Cas9', fontsize=8.5, va='center', color='#1a1a1a')


fig = plt.figure(figsize=(W / 100, H / 100), dpi=100)

# ---------------------------------------------------------------- panel A
axA = px_axes(fig, 53, 17, 302, 229)
a_series = [(a_empty, a_sd_empty, '#b4b4b4', 0.25), (a_lethal, a_sd_lethal, '#1ee61e', 0.15),
            (a_guide1, a_sd_guide, '#b5162b', 0.08), (a_guide2, a_sd_guide, '#df5e4c', 0.08),
            (a_guide3, a_sd_guide, '#f4a582', 0.1), (a_untreated, a_sd_untreated, '#000000', 0.13)]
for vals, sd, col, al in a_series:
    draw_band(axA, vals, sd, col, al)
a_handles = [draw_dots(axA, vals, col, lab) for (vals, sd, col, al), lab in zip(a_series, a_labels)]
growth_axes(axA, [7.5, 24, 48, 72, 96])

legA = fig.legend(a_handles, a_labels, loc='upper left', bbox_to_anchor=(308 / W, 1 - 9 / H),
                  fontsize=6.8, frameon=True, fancybox=False, edgecolor='#7f7f7f', markerscale=1.3,
                  handlelength=0.9, handletextpad=0.4, labelspacing=0.3, borderpad=0.4,
                  borderaxespad=0)
legA.get_frame().set_linewidth(1.0)

# ---------------------------------------------------------------- panel B
axB = px_axes(fig, 539, 17, 783, 228)
b_series = [(b_untreated, '#000000', b_sd_high), (b_pemetrexed, '#c6dbef', b_sd_low),
            (b_5fu, '#9ecae1', b_sd_low), (b_methotrexate, '#4292c6', b_sd_low),
            (b_mercaptopurine, '#2166ac', b_sd_low), (b_dca, '#d9ef8b', b_sd_low),
            (b_oxamate, '#a6d96a', b_sd_low), (b_doxorubicin, '#66bd63', b_sd_high),
            (b_cisplatin, '#1a9850', b_sd_low), (b_2dg, '#006837', b_sd_low),
            (b_uk5099, '#8c6bb1', b_sd_high), (b_camptothecin, '#c2a5cf', b_sd_low),
            (b_atorvastatin, '#df65b0', b_sd_high), (b_fccp, '#f7b6d2', b_sd_low),
            (b_trifluoperazine, '#ec8519', b_sd_high)]
for vals, col, sd in b_series:
    draw_band(axB, vals, sd, col if col != '#000000' else '#999999', 0.1)
b_handles = {}
for (vals, col, sd), lab in list(zip(b_series, b_labels))[1:]:
    b_handles[lab] = draw_dots(axB, vals, col, lab)
b_handles[b_labels[0]] = draw_dots(axB, b_series[0][0], '#000000', b_labels[0])
growth_axes(axB, [24])

legB = fig.legend([b_handles[l] for l in b_labels], b_labels, loc='upper left',
                  bbox_to_anchor=(378 / W, 1 - 93 / H), fontsize=6.8, frameon=True, fancybox=False,
                  edgecolor='#7f7f7f', markerscale=1.3, handlelength=0.9, handletextpad=0.4,
                  labelspacing=0.12, borderpad=0.5, borderaxespad=0)
legB.get_frame().set_linewidth(1.0)

# ---------------------------------------------------------------- panel C (volcano plots)
panels = [
    (dg_gray, dg_red, dg_dump, (-2.75, 4.9), (0, 11.3), [-2, 0, 2, 4], [0, 5, 10]),
    (fu_gray, fu_red, fu_dump, (-2.65, 5.0), (0, 7.65), [-2, 0, 2, 4], [0, 2, 4, 6]),
    (at_gray, at_red, at_dump, (-0.5, 6.5), (0, 10.2), [0, 2, 4, 6], [0, 5, 10]),
    (ca_gray, ca_red, ca_dump, (-5.0, 2.05), (0, 10.3), [-4, -2, 0, 2], [0, 5, 10]),
    (ci_gray, ci_red, ci_dump, (-1.03, 1.56), (0, 4.45), [-1, 0, 1], [0, 2, 4]),
    (dc_gray, dc_red, dc_dump, (-2.5, 5.45), (0, 10.1), [-2, 0, 2, 4], [0, 5, 10]),
    (dx_gray, dx_red, dx_dump, (-2.05, 2.05), (0, 4.45), [-2, 0, 2], [0, 2, 4]),
    (fc_gray, fc_red, fc_dump, (-2.8, 3.2), (0, 10.1), [-2, 0, 2], [0, 5, 10]),
    (mp_gray, mp_red, mp_dump, (-2.63, 3.6), (0, 6.6), [-2, 0, 2], [0, 2, 4, 6]),
    (mt_gray, mt_red, mt_dump, (-2.3, 2.3), (0, 6.6), [-2, 0, 2], [0, 2, 4, 6]),
    (ox_gray, ox_red, ox_dump, (-1.8, 4.1), (0, 10.4), [0, 2, 4], [0, 5, 10]),
    (pm_gray, pm_red, pm_dump, (-1.58, 3.22), (0, 10.15), [-1, 0, 1, 2, 3], [0, 5, 10]),
    (tf_gray, tf_red, tf_dump, (-2.47, 3.45), (0, 7.8), [-2, 0, 2], [0, 2, 4, 6]),
    (uk_gray, uk_red, uk_dump, (-1.15, 3.33), (0, 6.15), [-1, 0, 1, 2, 3], [0, 2, 4, 6]),
]
col_left = [52, 204, 348, 494, 642]
row_span = [(291, 377), (431, 517), (570, 656)]

for i, (gray, red, dump, xl, yl, xt, yt) in enumerate(panels):
    top, bottom = row_span[i // 5]
    left = col_left[i % 5]
    ax = px_axes(fig, left, top, left + 86, bottom)
    gx, gy = zip(*gray)
    ax.scatter(gx, gy, s=17, facecolor='#c8c8c8', edgecolor='#1f1f1f', linewidth=0.6,
               clip_on=False, zorder=2)
    if red:
        rx, ry = zip(*red)
        ax.scatter(rx, ry, s=21, facecolor='#ff0000', edgecolor='#1a1a1a', linewidth=0.55,
                   clip_on=False, zorder=3)
    ax.scatter([dump[0]], [dump[1]], s=19, facecolor='#f4704f', edgecolor='#f0d0c8',
               linewidth=0.4, clip_on=False, zorder=4)
    ax.set_xlim(*xl)
    ax.set_ylim(*yl)
    ax.set_xticks(xt)
    ax.set_yticks(yt)
    style_axes(ax, 8.5)
    ax.set_title(volcano_titles[i], fontsize=9, fontweight='bold', color='black', pad=3)
    ax.set_xlabel('FC(log2)', fontsize=9.5, color=TEXT, labelpad=3)
    ax.set_ylabel('P-value(-log10)', fontsize=8.5, color=TEXT, labelpad=1)

c_handles = [Line2D([], [], marker='o', ls='none', ms=7.5, mfc=c, mec='none')
             for c in ('#dcdcdc', '#ff0000', '#f4704f')]
fig.legend(c_handles, ['metabolite', 'significant', 'dUMP'], loc='upper left',
           bbox_to_anchor=(634 / W, 1 - 574 / H), fontsize=8.5, frameon=False,
           handlelength=0.8, handletextpad=0.2, labelspacing=0.22, borderpad=0, borderaxespad=0)

# panel letters
for letter, x, y in (('A', 13, 18), ('B', 488, 18), ('C', 13, 266)):
    fig.text(x / W, 1 - y / H, letter, fontsize=20, va='center', ha='left')

fig.savefig('out.png', dpi=100)
